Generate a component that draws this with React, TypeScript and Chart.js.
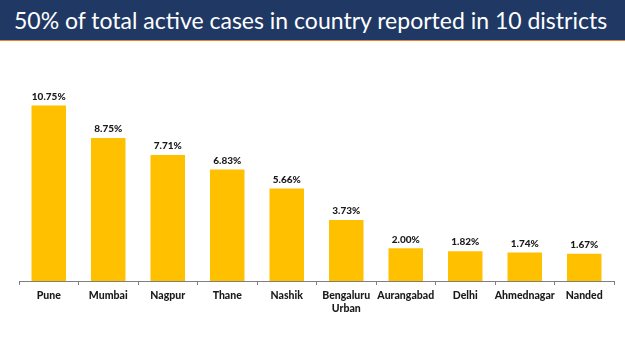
import React, { useEffect, useRef } from "react";
import { Chart, registerables } from "chart.js";

Chart.register(...registerables);

const TITLE = "50% of total active cases in country reported in 10 districts";
const districts: (string | string[])[] = [
  "Pune",
  "Mumbai",
  "Nagpur",
  "Thane",
  "Nashik",
  ["Bengaluru", "Urban"],
  "Aurangabad",
  "Delhi",
  "Ahmednagar",
  "Nanded",
];
const shares = [10.75, 8.75, 7.71, 6.83, 5.66, 3.73, 2.0, 1.82, 1.74, 1.67];

const valueLabels = {
  id: "valueLabels",
  afterDatasetsDraw(chart: any) {
    const ctx = chart.ctx;
    const meta = chart.getDatasetMeta(0);
    ctx.save();
    ctx.font = "900 10px Lato";
    ctx.fillStyle = "#1a1a1a";
    ctx.textAlign = "center";
    ctx.textBaseline = "bottom";
    meta.data.forEach((bar: any, i: number) => {
      ctx.fillText(shares[i].toFixed(2) + "%", bar.x, bar.y - 4);
    });
    ctx.restore();
  },
};

export default function App() {
  const ref = useRef<HTMLCanvasElement | null>(null);
  useEffect(() => {
    if (!ref.current) return;
    const chart = new Chart(ref.current, {
      type: "bar",
      data: {
        labels: districts,
        datasets: [
          {
            data: shares,
            backgroundColor: "#FFC000",
            borderWidth: 0,
            barPercentage: 0.58,
            categoryPercentage: 1,
          },
        ],
      },
      options: {
        animation: false,
        responsive: false,
        maintainAspectRatio: false,
        layout: { padding: { top: 44, left: 19, right: 11, bottom: 0 } },
        plugins: { legend: { display: false }, tooltip: { enabled: false } },
        scales: {
          y: { display: false, min: 0, max: 12 },
          x: {
            afterFit: (s: any) => {
              s.height = 70;
            },
            grid: {
              offset: true,
              drawOnChartArea: false,
              drawTicks: true,
              tickLength: 4,
              color: "#7f7f7f",
            },
            border: { display: true, color: "#7f7f7f", width: 1 },
            ticks: {
              color: "#1a1a1a",
              font: { family: "Lato", weight: "900", size: 10.5, lineHeight: 1.25 },
              padding: 4,
              maxRotation: 0,
              autoSkip: false,
            },
          },
        },
      },
      plugins: [valueLabels],
    });
    return () => chart.destroy();
  }, []);

  return (
    <div
      style={{
        position: "fixed",
        left: 0,
        top: 0,
        width: 625,
        height: 351,
        background: "#ffffff",
        overflow: "hidden",
      }}
    >
      <div
        style={{
          height: 40,
          background: "#1F3864",
          borderBottom: "1px solid #ED7D31",
          color: "#ffffff",
          fontFamily: "Lato",
          fontSize: 23,
          lineHeight: "40px",
          paddingLeft: 14,
          whiteSpace: "nowrap",
        }}
      >
        {TITLE}
      </div>
      <canvas ref={ref} width={625} height={310} style={{ display: "block" }} />
    </div>
  );
}
